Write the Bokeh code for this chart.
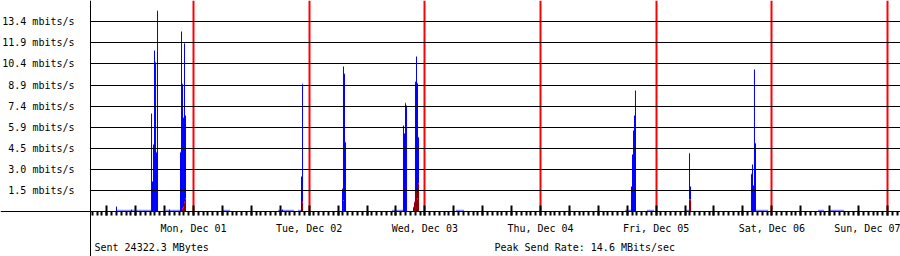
import math
from bokeh.plotting import figure
from bokeh.models import (Range1d, FixedTicker, CustomJSTickFormatter, Label,
                          ColumnDataSource)
from bokeh.embed import file_html
from bokeh.resources import INLINE

# ---- data (time = hours since Mon, Dec 01 00:00; rates in mbits/s) ----
SAMPLE_H = 0.2075   # one consolidated sample

send_t = [-15.98, -12.86, -8.71, -8.51, -8.30, -8.09, -7.88, -7.68, -7.47,
          -4.98, -2.70, -2.49, -2.28, -2.07, -1.87, -1.66,
          18.47, 22.41, 22.62, 30.92, 31.12, 31.33, 31.54,
          43.57, 43.78, 43.99, 44.20, 45.86, 46.06, 46.27, 46.48, 46.69,
          90.88, 91.09, 91.30, 91.51, 91.71, 102.92, 103.13,
          115.78, 115.99, 116.20, 116.40, 116.61]
send_rate = [0.35, 0.14, 6.90, 2.11, 4.72, 11.34, 10.51, 4.18, 14.15,
             0.14, 4.18, 12.68, 8.99, 6.60, 11.85, 6.76,
             0.14, 2.46, 8.99, 1.60, 10.21, 9.70, 4.88,
             6.06, 5.49, 7.65, 7.46, 0.65, 9.15, 10.92, 9.04, 5.23,
             1.76, 4.01, 5.70, 6.76, 8.52, 4.11, 1.76,
             2.65, 3.31, 1.83, 10.00, 4.81]

# low background traffic (start, end, rate)
idle_start = [-15.98, -5.60, 6.22, 17.64, 21.79, 41.29, 54.57, 89.64, 94.20,
              102.29, 116.82, 129.68, 132.17]
idle_end = [-8.71, -2.70, 7.68, 20.96, 22.41, 43.57, 56.23, 90.88, 95.65,
            102.92, 119.31, 130.93, 135.08]
idle_rate = [0.09] * len(idle_start)

recv_t = [-2.28, -2.07, -1.87, -1.66, 22.62, 31.12,
          45.65, 45.86, 46.06, 46.27, 46.48, 46.69, 102.92, 103.13]
recv_rate = [0.19, 0.30, 0.65, 0.89, 0.65, 0.77,
             0.30, 0.65, 1.48, 1.48, 0.90, 1.95, 0.82, 0.82]

day_labels = ["Mon, Dec 01", "Tue, Dec 02", "Wed, Dec 03", "Thu, Dec 04",
              "Fri, Dec 05", "Sat, Dec 06", "Sun, Dec 07"]
ytick_values = [1.485, 2.97, 4.455, 5.94, 7.425, 8.91, 10.395, 11.88, 13.365]
ytick_labels = ["1.5 mbits/s", "3.0 mbits/s", "4.5 mbits/s", "5.9 mbits/s",
                "7.4 mbits/s", "8.9 mbits/s", "10.4 mbits/s", "11.9 mbits/s",
                "13.4 mbits/s"]
sent_text = "Sent 24322.3 MBytes"
peak_text = "Peak Send Rate: 14.6 MBits/sec"

# ---- layout ----
W, H = 900, 256
X_VIEW_START, X_AXIS, X_END = -40.05, -21.37, 146.70
Y_MIN, Y_MAX = -3.171, 14.87
FONT = "DejaVu Sans Mono"
PX_X = (X_END - X_VIEW_START) / W      # hours per pixel
PX_Y = (Y_MAX - Y_MIN) / H             # mbits/s per pixel
DX, DY = -0.5 * PX_X, 0.5 * PX_Y       # pixel-centre alignment of fills
CAP = PX_Y

p = figure(width=W, height=H, output_backend="svg", toolbar_location=None,
           x_range=Range1d(X_VIEW_START, X_END), y_range=Range1d(Y_MIN, Y_MAX),
           min_border_left=0, min_border_right=0, min_border_top=0,
           min_border_bottom=0)
p.outline_line_color = None
p.background_fill_color = "white"
p.border_fill_color = "white"

# idle traffic
p.quad(left=[t + DX for t in idle_start], right=[t + DX for t in idle_end],
       bottom=DY, top=[v + DY for v in idle_rate],
       fill_color="#8c8cff", line_color=None)

# send bars: light cap + blue body
s = ColumnDataSource(dict(l=[t + DX for t in send_t],
                          r=[t + SAMPLE_H + DX for t in send_t],
                          top=[v + DY for v in send_rate],
                          body=[max(v - CAP, 0) + DY for v in send_rate]))
p.quad(left="l", right="r", bottom=DY, top="top", source=s,
       fill_color="#8080ff", line_color=None)
p.quad(left="l", right="r", bottom=DY, top="body", source=s,
       fill_color="#0000ff", line_color=None)

# receive bars: magenta cap + dark red body
rs = ColumnDataSource(dict(l=[t + DX for t in recv_t],
                           r=[t + SAMPLE_H + DX for t in recv_t],
                           top=[v + DY for v in recv_rate],
                           body=[max(v - CAP, 0) + DY for v in recv_rate]))
p.quad(left="l", right="r", bottom=DY, top="top", source=rs,
       fill_color="#ff22cc", line_color=None)
p.quad(left="l", right="r", bottom=DY, top="body", source=rs,
       fill_color="#8b0000", line_color=None)

# x axis (drawn on the zero line): 6-hour ticks inside, hourly ticks outside
hours = list(range(math.ceil(X_AXIS), math.floor(X_END) + 1))
six_h = [h for h in hours if h % 6 == 0]
midnights = [h for h in hours if h % 24 == 0]

xax = p.xaxis[0]
xax.fixed_location = 0
xax.ticker = FixedTicker(ticks=six_h, minor_ticks=hours)
xax.formatter = CustomJSTickFormatter(args=dict(labels=day_labels), code="""
    const d = Math.round(tick / 24);
    if (Math.abs(tick - d * 24) > 1e-6) return "";
    return (d >= 0 && d < labels.length) ? labels[d] : "";
""")
xax.axis_line_color = "black"
xax.axis_line_width = 1
xax.major_tick_in = 6
xax.major_tick_out = 4
xax.minor_tick_in = 0
xax.minor_tick_out = 4
xax.major_tick_line_width = 2
xax.minor_tick_line_width = 2
xax.major_tick_line_color = "black"
xax.minor_tick_line_color = "black"
xax.major_label_text_font = FONT
xax.major_label_text_font_size = "10px"
xax.major_label_text_color = "black"
xax.major_label_standoff = 7

# y axis (drawn at the left edge of the data area)
yax = p.yaxis[0]
yax.fixed_location = X_AXIS
yax.ticker = FixedTicker(ticks=ytick_values)
yax.formatter = CustomJSTickFormatter(
    args=dict(vals=ytick_values, labels=ytick_labels), code="""
    let best = 0;
    for (let i = 0; i < vals.length; i++) {
        if (Math.abs(vals[i] - tick) < Math.abs(vals[best] - tick)) best = i;
    }
    return labels[best];
""")
yax.axis_line_color = "black"
yax.axis_line_width = 1
yax.major_tick_in = 0
yax.major_tick_out = 0
yax.minor_tick_in = 0
yax.minor_tick_out = 0
yax.major_label_text_font = FONT
yax.major_label_text_font_size = "10px"
yax.major_label_text_color = "black"
yax.major_label_standoff = 16

p.ygrid.ticker = FixedTicker(ticks=ytick_values)
p.ygrid.cross_bounds = (X_AXIS, X_END)
p.ygrid.grid_line_color = "black"
p.ygrid.grid_line_width = 1
p.ygrid.level = "guide"

p.xgrid.ticker = FixedTicker(ticks=midnights)
p.xgrid.cross_bounds = (0, Y_MAX)
p.xgrid.grid_line_color = "#ff0000"
p.xgrid.grid_line_width = 2

for txt, x in ((sent_text, 94), (peak_text, 494)):
    p.add_layout(Label(x=x, y=9, x_units="screen", y_units="screen",
                       text=txt, text_font=FONT, text_font_size="10px",
                       text_color="black", text_baseline="alphabetic"))

open("out.html", "w").write(file_html(p, INLINE))
